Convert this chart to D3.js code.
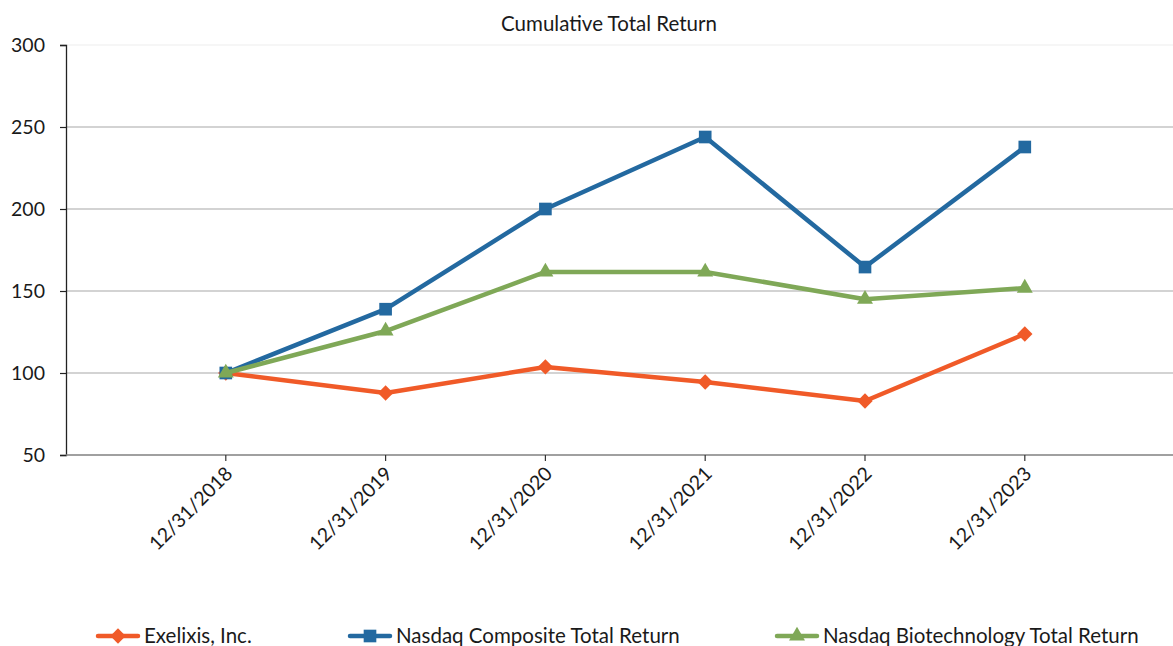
<!DOCTYPE html>
<html>
<head>
<meta charset="utf-8">
<script src="https://cdn.jsdelivr.net/npm/d3@7"></script>
<style>
  body { margin: 0; background: #fff; }
  svg { display: block; font-family: Lato, "Open Sans", sans-serif; }
</style>
</head>
<body>
<div id="chart"></div>
<script>
// data
const dates = ["12/31/2018", "12/31/2019", "12/31/2020", "12/31/2021", "12/31/2022", "12/31/2023"];
const exelixis = [100, 87.8, 103.7, 94.5, 82.9, 123.8];
const nasdaqComposite = [100, 138.9, 200, 243.9, 164.6, 237.8];
const nasdaqBiotech = [100, 125.6, 161.6, 161.6, 145, 151.8];
const yTicks = [50, 100, 150, 200, 250, 300];

const series = [
    {name: "Exelixis, Inc.", values: exelixis, color: "#F05A28", marker: "diamond"},
    {name: "Nasdaq Composite Total Return", values: nasdaqComposite, color: "#2369A0", marker: "square"},
    {name: "Nasdaq Biotechnology Total Return", values: nasdaqBiotech, color: "#7FA857", marker: "triangle"}
];

const width = 1173, height = 646;
const margin = {left: 66, top: 45, bottom: 455};

const svg = d3.select("#chart").append("svg")
    .attr("width", width)
    .attr("height", height);

// one empty slot before the first date, like the original layout
const x = d3.scaleLinear()
    .domain([-1, dates.length])
    .range([margin.left, margin.left + 159.8 * (dates.length + 1)]);

const y = d3.scaleLinear()
    .domain([50, 300])
    .range([margin.bottom, margin.top]);

// title
svg.append("text")
    .attr("x", 609)
    .attr("y", 31)
    .attr("text-anchor", "middle")
    .style("font-size", "20.5px")
    .style("fill", "#1a1a1a")
    .text("Cumulative Total Return");

// gridlines
svg.append("g").selectAll("line")
    .data(yTicks.filter(d => d > 50))
    .enter().append("line")
    .attr("x1", margin.left).attr("x2", width)
    .attr("y1", d => y(d)).attr("y2", d => y(d))
    .style("stroke", d => d === 300 ? "#f3f3f3" : "#c4c4c4")
    .style("stroke-width", 1.5);

// y axis
const yAxis = svg.append("g")
    .attr("transform", `translate(${margin.left},0)`)
    .call(d3.axisLeft(y).tickValues(yTicks).tickSize(6).tickPadding(15));
yAxis.select(".domain").style("stroke", "#222").style("stroke-width", 1.3);
yAxis.selectAll(".tick line").style("stroke", "#222").style("stroke-width", 1.2);
yAxis.selectAll(".tick text")
    .style("font-size", "19.5px")
    .style("fill", "#1a1a1a")
    .style("font-family", "Lato, 'Open Sans', sans-serif");

// x axis
svg.append("line")
    .attr("x1", margin.left).attr("x2", width)
    .attr("y1", margin.bottom).attr("y2", margin.bottom)
    .style("stroke", "#808080")
    .style("stroke-width", 1.5);

const xTick = svg.append("g").selectAll("g")
    .data(dates)
    .enter().append("g")
    .attr("transform", (d, i) => `translate(${x(i)},${margin.bottom})`);

xTick.append("line")
    .attr("y1", 0).attr("y2", 6)
    .style("stroke", "#333")
    .style("stroke-width", 1.2);

xTick.append("text")
    .attr("transform", "translate(8,20) rotate(-45)")
    .attr("text-anchor", "end")
    .style("font-size", "19.5px")
    .style("fill", "#1a1a1a")
    .text(d => d);

// markers
function markerPath(type) {
    if (type === "diamond") return d3.symbol(d3.symbolDiamond2, 150)();
    if (type === "square") return d3.symbol(d3.symbolSquare, 160)();
    return d3.symbol(d3.symbolTriangle, 110)();
}

const line = d3.line()
    .x((d, i) => x(i))
    .y(d => y(d));

const seriesG = svg.append("g").selectAll("g")
    .data(series)
    .enter().append("g");

seriesG.append("path")
    .attr("d", d => line(d.values))
    .style("fill", "none")
    .style("stroke", d => d.color)
    .style("stroke-width", 4.5)
    .style("stroke-linejoin", "round");

seriesG.each(function (s) {
    d3.select(this).selectAll(".mk")
        .data(s.values)
        .enter().append("path")
        .attr("class", "mk")
        .attr("transform", (d, i) => `translate(${x(i)},${y(d)})`)
        .attr("d", markerPath(s.marker))
        .style("fill", s.color);
});

// legend
const legendX = [98, 350, 777];
const legend = svg.append("g").selectAll("g")
    .data(series)
    .enter().append("g")
    .attr("transform", (d, i) => `translate(${legendX[i]},636)`);

legend.append("line")
    .attr("x1", 0).attr("x2", 40)
    .style("stroke", d => d.color)
    .style("stroke-width", 4.5)
    .style("stroke-linecap", "round");

legend.append("path")
    .attr("transform", "translate(20,0)")
    .attr("d", d => markerPath(d.marker))
    .style("fill", d => d.color);

legend.append("text")
    .attr("x", 46)
    .attr("y", 7)
    .style("font-size", "20.5px")
    .style("fill", "#1a1a1a")
    .text(d => d.name);
</script>
</body>
</html>
